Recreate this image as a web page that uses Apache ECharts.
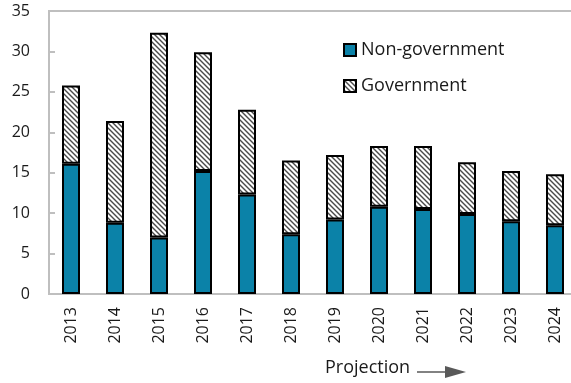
<!DOCTYPE html>
<html>
<head>
<meta charset="utf-8">
<script src="https://cdn.jsdelivr.net/npm/echarts@6/dist/echarts.min.js"></script>
<style>
  html, body { margin: 0; padding: 0; background: #fff; }
  #chart { width: 571px; height: 383px; }
</style>
</head>
<body>
<div id="chart"></div>
<script>
// Financing by source, 2013-2024 (2019 onward projected)
const years = ['2013', '2014', '2015', '2016', '2017', '2018', '2019', '2020', '2021', '2022', '2023', '2024'];
const nonGovernment = [16.1, 8.8, 7.0, 15.2, 12.3, 7.4, 9.2, 10.8, 10.5, 9.9, 9.0, 8.5];
const government = [9.7, 12.6, 25.3, 14.7, 10.5, 9.1, 8.0, 7.5, 7.8, 6.4, 6.2, 6.3];
const yTicks = [0, 5, 10, 15, 20, 25, 30, 35];

const FONT = '"Open Sans", "Noto Sans", sans-serif';
const TEXT = '#1a1a1a';
const AXIS = '#bfbfbf';

// diagonal hatch tile for the government bars
function hatch() {
  const s = 5;
  const c = document.createElement('canvas');
  c.width = s; c.height = s;
  const g = c.getContext('2d');
  g.fillStyle = '#ffffff';
  g.fillRect(0, 0, s, s);
  g.strokeStyle = '#4a4a4a';
  g.lineWidth = 1.4;
  g.beginPath();
  g.moveTo(-1, -1); g.lineTo(s + 1, s + 1);
  g.moveTo(-1, s - 1); g.lineTo(1, s + 1);
  g.moveTo(s - 1, -1); g.lineTo(s + 1, 1);
  g.stroke();
  return c;
}

const chart = echarts.init(document.getElementById('chart'), null, { renderer: 'canvas' });
chart.setOption({
  animation: false,
  textStyle: { fontFamily: FONT },
  grid: {
    left: 49, top: 11, bottom: 89, right: -6,
    containLabel: false, outerBoundsMode: 'none',
    show: true, borderColor: AXIS, borderWidth: 2, backgroundColor: 'transparent'
  },
  legend: {
    orient: 'vertical',
    left: 338, top: 36,
    icon: 'rect',
    itemWidth: 12, itemHeight: 12, itemGap: 18,
    textStyle: { fontFamily: FONT, fontSize: 18, color: TEXT },
    data: ['Non-government', 'Government']
  },
  xAxis: {
    type: 'category',
    data: years,
    axisLine: { lineStyle: { color: AXIS, width: 2 } },
    axisTick: { inside: true, length: 6, lineStyle: { color: AXIS, width: 2 } },
    axisLabel: { rotate: 90, margin: 13, fontSize: 16, color: TEXT, fontFamily: FONT }
  },
  yAxis: {
    type: 'value',
    min: yTicks[0], max: yTicks[yTicks.length - 1], interval: yTicks[1] - yTicks[0],
    axisLine: { show: true, lineStyle: { color: AXIS, width: 2 } },
    axisTick: { show: true, inside: true, length: 6, lineStyle: { color: AXIS, width: 2 } },
    splitLine: { show: false },
    axisLabel: { margin: 19, fontSize: 16, color: TEXT, fontFamily: FONT }
  },
  series: [
    {
      name: 'Non-government', type: 'bar', stack: 'total', barWidth: 18,
      data: nonGovernment,
      itemStyle: { color: '#0b82a8', borderColor: '#000', borderWidth: 2 }
    },
    {
      name: 'Government', type: 'bar', stack: 'total', barWidth: 18,
      data: government,
      itemStyle: { color: { image: hatch(), repeat: 'repeat' }, borderColor: '#000', borderWidth: 2 }
    }
  ],
  graphic: [
    {
      type: 'text', left: 325, top: 359,
      style: { text: 'Projection', fontSize: 18, fontFamily: FONT, fill: TEXT }
    },
    {
      type: 'line', shape: { x1: 417, y1: 372, x2: 450, y2: 372 },
      style: { stroke: '#595959', lineWidth: 1.5 }
    },
    {
      type: 'polygon', shape: { points: [[445, 366], [466, 372], [445, 378]] },
      style: { fill: '#595959' }
    }
  ]
});
</script>
</body>
</html>
